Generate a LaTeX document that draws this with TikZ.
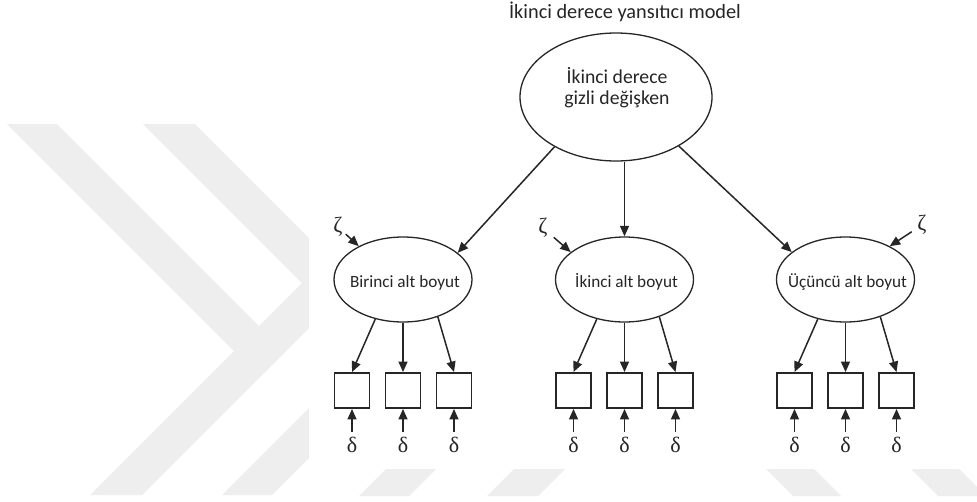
\documentclass[tikz,border=0pt]{standalone}
\usepackage{fontspec}
\setmainfont{Carlito}
\newfontfamily\greekfont{Liberation Serif}
\usetikzlibrary{shapes.geometric,arrows.meta}
\definecolor{ink}{HTML}{262626}
\definecolor{wm}{HTML}{EEEEEE}

\begin{document}
\begin{tikzpicture}[x=1pt,y=-1pt,
  latent/.style={ellipse, draw=ink, line width=1.3pt, inner sep=0pt,
    minimum width=138pt, minimum height=85pt},
  lbl/.style={font=\fontsize{17.2}{20}\selectfont, text=ink, inner sep=0pt},
  indicator/.style={rectangle, draw=ink, line width=1.9pt, minimum size=35pt, inner sep=0pt},
  regarrow/.style={draw=ink, line width=1.5pt, -{Triangle[length=10.5pt,width=9pt]}},
  errlabel/.style={font=\greekfont\fontsize{22}{22}\selectfont, text=ink, inner sep=3pt},
]
\useasboundingbox (0,0) rectangle (977,501);
\fill[white] (0,0) rectangle (977,501);

% faint chevron pattern in the background
\fill[wm] (7,124) -- (57,124) -- (285,352) -- (260,377) -- cycle;
\fill[wm] (143,124) -- (195,124) -- (354,283) -- (328,309) -- cycle;
\fill[wm] (90,495) -- (142,495) -- (420,217) -- (368,217) -- cycle;
\fill[wm] (222,495) -- (272,495) -- (400,367) -- (350,367) -- cycle;
\fill[wm] (359,496) -- (409,496) -- (439,466) -- (389,466) -- cycle;
\fill[wm] (487,496) -- (538,496) -- (568,466) -- (517,466) -- cycle;
\fill[wm] (793,496) -- (841,496) -- (811,466) -- (763,466) -- cycle;
\fill[wm] (938,496) -- (986,496) -- (956,466) -- (908,466) -- cycle;
\fill[white] (309,0) rectangle (977,469);

% title
\node[font=\fontsize{20.3}{24}\selectfont, text=ink, anchor=base, inner sep=0pt]
  (title) at (625,18) {İkinci derece yansıtıcı model};

% second-order latent variable
\node[latent, minimum width=192pt, minimum height=128pt] (top) at (616,97) {};
\node[font=\fontsize{19.7}{21}\selectfont, text=ink, align=center, inner sep=0pt]
  (toptext) at (617,88) {İkinci derece\\gizli değişken};

% first-order dimensions with their indicators
\foreach \g/\c/\name in {1/403/Birinci alt boyut, 2/624.5/İkinci alt boyut, 3/845.5/Üçüncü alt boyut} {
  \node[latent] (b\g) at (\c,279.5) {};
  \node[lbl, anchor=base] (b\g t) at (\c+2,287) {\name};
  \foreach \k/\dx in {1/-51,2/0,3/51} {
    \node[indicator] (x\g\k) at (\c+\dx,390.5) {};
    \node[errlabel, inner sep=0pt] (d\g\k) at (\c+\dx,445) {δ};
    \draw[regarrow, shorten <=5pt] (d\g\k.north) -- (x\g\k.south);
  }
  \draw[regarrow] (b\g.235) -- (x\g1.north);
  \draw[regarrow] (b\g.south) -- (x\g2.north);
  \draw[regarrow] (b\g.313) -- (x\g3.north);
}

% loadings of the second-order factor
\draw[regarrow] (top.219) -- (b1.26);
\draw[regarrow] (top.south -| b2.north) -- (b2.north);
\draw[regarrow] (top.322) -- (b3.153);

% disturbances
\node[errlabel] (z1) at (338,227) {ζ};
\draw[regarrow] (z1) -- (b1.143);
\node[errlabel] (z2) at (543,228) {ζ};
\draw[regarrow, shorten <=4pt] (z2) -- (b2.153);
\node[errlabel] (z3) at (922,225) {ζ};
\draw[regarrow, shorten <=3pt] (z3) -- (b3.37);
\end{tikzpicture}
\end{document}
